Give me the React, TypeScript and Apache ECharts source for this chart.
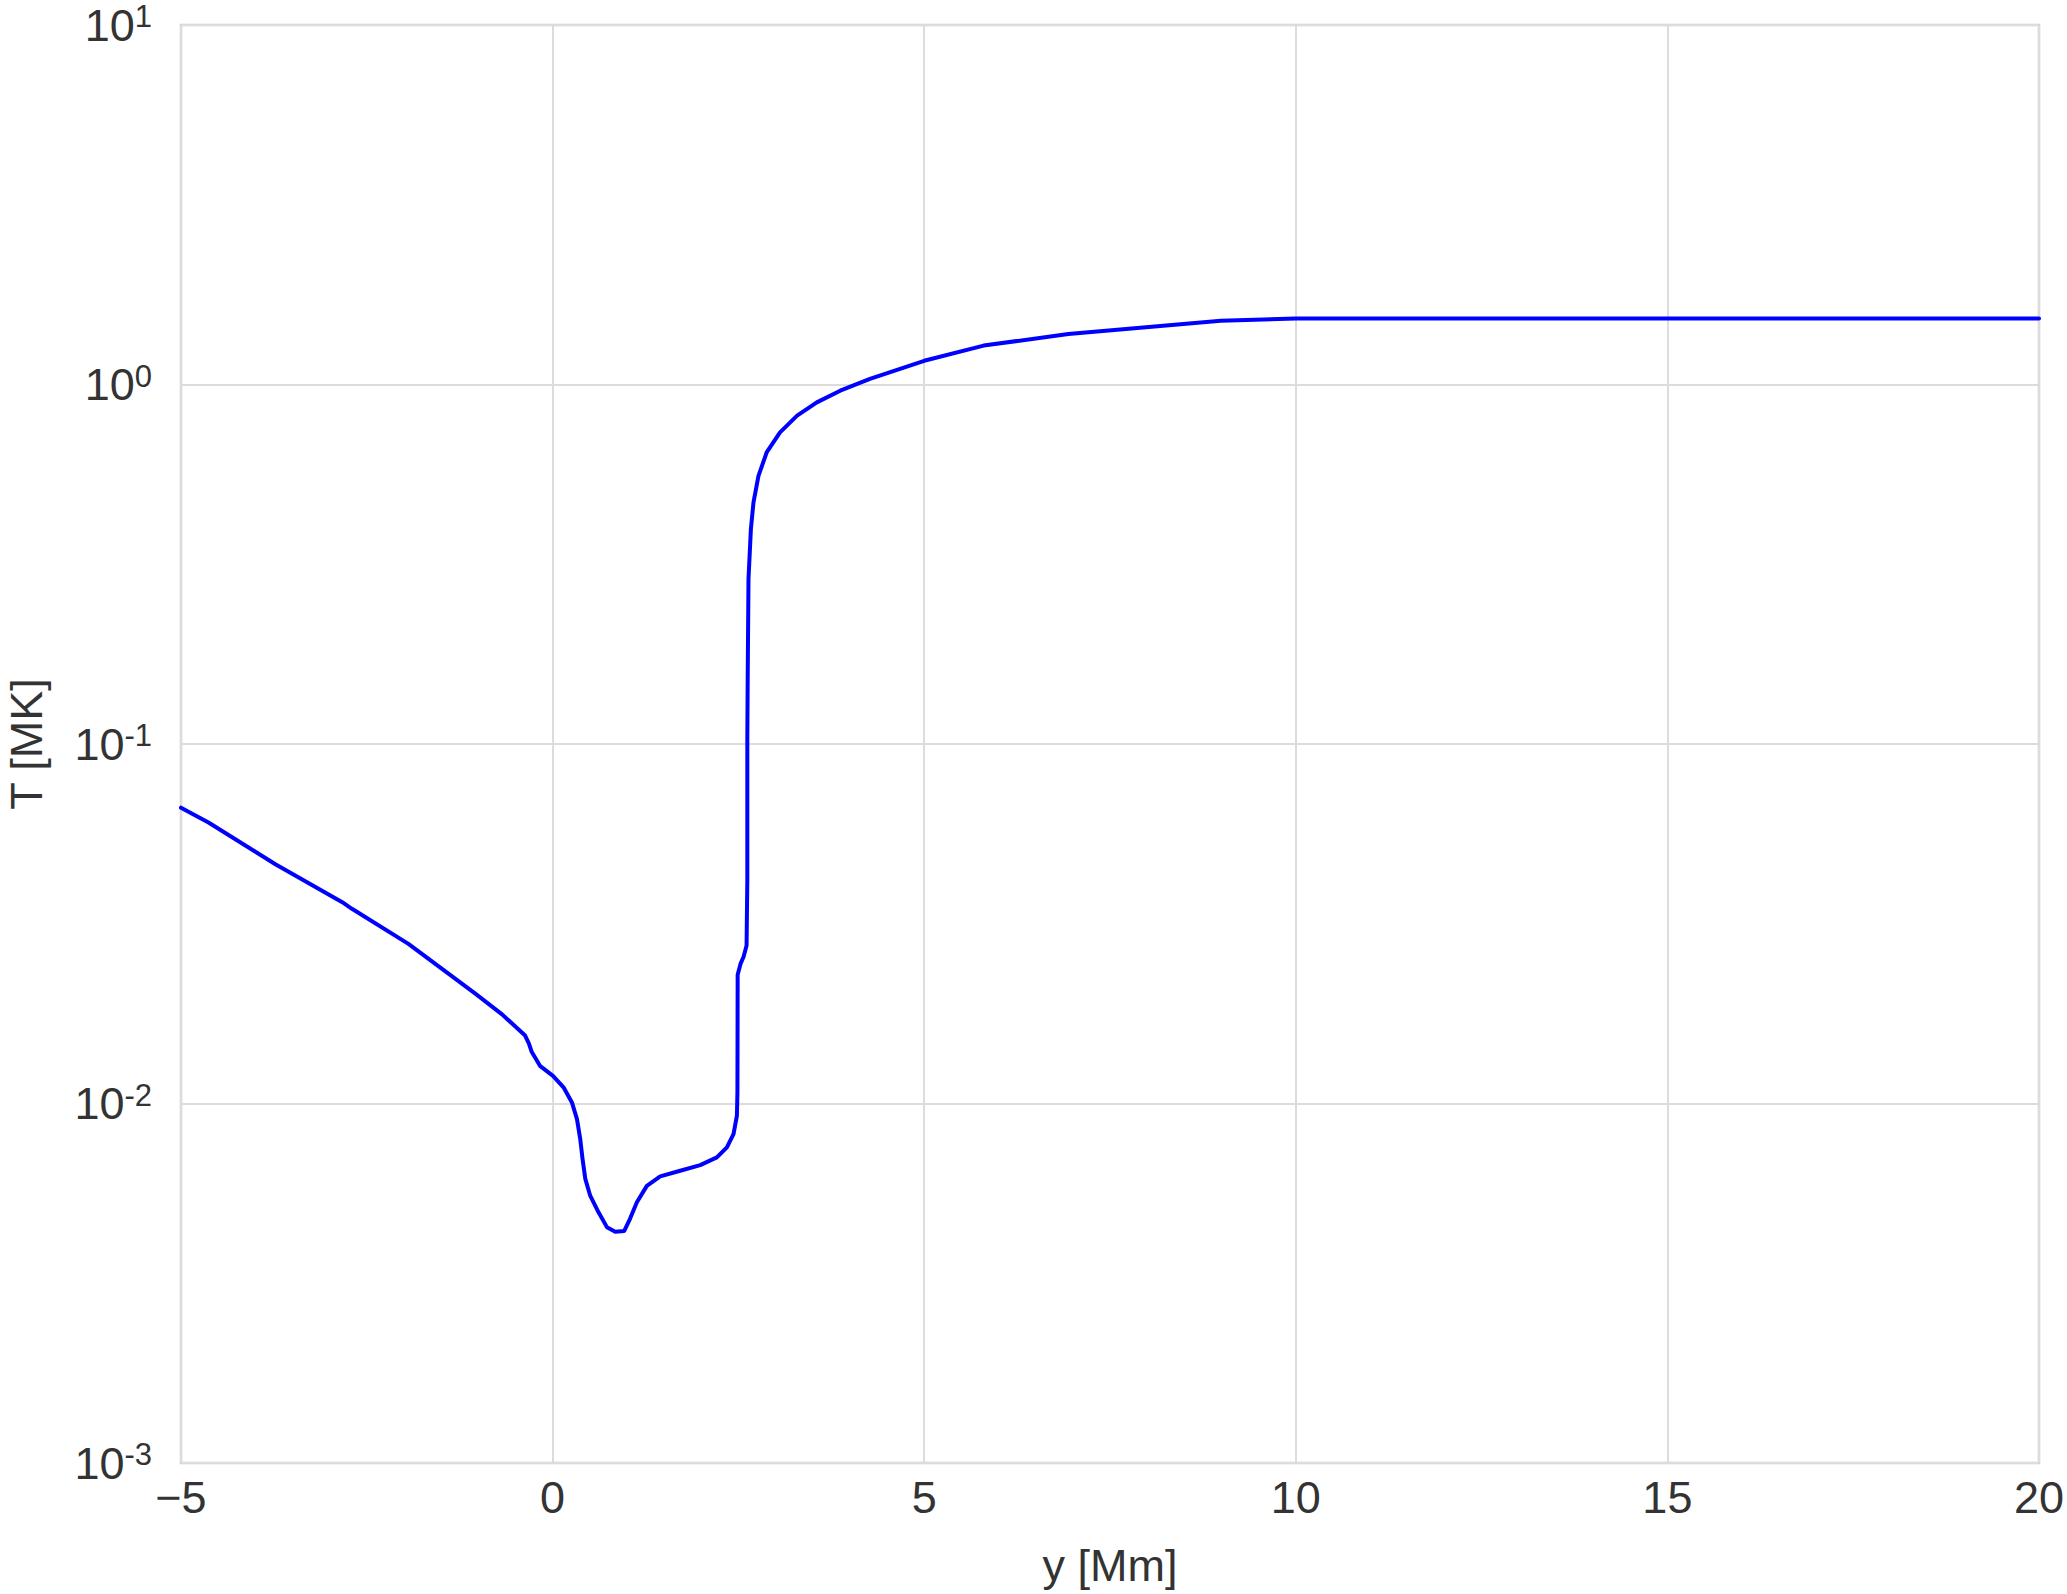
import React, { useEffect, useRef } from "react";
import * as echarts from "echarts";

// y position [Mm]
const yMm: number[] = [
  -5, -4.63, -3.73, -2.83, -2.7, -1.94, -1.04, -0.68, -0.37, -0.32, -0.28, -0.166, 0.005, 0.147,
  0.26, 0.328, 0.372, 0.403, 0.44, 0.506, 0.618, 0.731, 0.843, 0.964, 1.04, 1.134, 1.268, 1.448,
  1.717, 1.986, 2.21, 2.345, 2.434, 2.48, 2.487, 2.49, 2.53, 2.57, 2.61, 2.62, 2.62, 2.625, 2.636,
  2.668, 2.703, 2.77, 2.88, 3.06, 3.29, 3.555, 3.87, 4.27, 5.0, 5.8, 6.94, 8.99, 10, 20,
];
// temperature [MK]
const tempMK: number[] = [
  0.0665, 0.0605, 0.0463, 0.0363, 0.0348, 0.0278, 0.0202, 0.0177, 0.01545, 0.0147, 0.0139, 0.0127,
  0.01194, 0.01109, 0.01007, 0.00905, 0.00796, 0.00701, 0.00617, 0.00554, 0.00498, 0.00453, 0.0044,
  0.00442, 0.00477, 0.00531, 0.0059, 0.00627, 0.0065, 0.00674, 0.00708, 0.00755, 0.00822, 0.00925,
  0.01074, 0.0228, 0.0245, 0.0256, 0.0275, 0.042, 0.104, 0.152, 0.288, 0.396, 0.47, 0.557, 0.647,
  0.736, 0.819, 0.892, 0.961, 1.036, 1.164, 1.283, 1.382, 1.505, 1.527, 1.527,
];
const xTicks: number[] = [-5, 0, 5, 10, 15, 20];
const yExponents: number[] = [-3, -2, -1, 0, 1];

const FONT = "Liberation Sans";
const TXT = "#333333";

export default function App() {
  const ref = useRef<HTMLDivElement>(null);
  useEffect(() => {
    document.body.style.margin = "0";
    if (!ref.current) return;
    const chart = echarts.init(ref.current, undefined, { renderer: "svg" });
    const data = yMm.map((x, i) => [x, tempMK[i]]);
    chart.setOption({
      animation: false,
      backgroundColor: "#ffffff",
      grid: {
        left: 181,
        top: 25,
        right: 28,
        bottom: 131,
        containLabel: false,
        outerBoundsMode: "none",
        show: true,
        borderColor: "#cccccc",
        borderWidth: 2.5,
        backgroundColor: "#ffffff",
      },
      xAxis: {
        type: "value",
        min: xTicks[0],
        max: xTicks[xTicks.length - 1],
        interval: 5,
        name: "y [Mm]",
        nameLocation: "middle",
        nameGap: 80,
        nameTextStyle: { fontFamily: FONT, fontSize: 45, color: TXT },
        axisLine: { show: false },
        axisTick: { show: false },
        axisLabel: {
          fontFamily: FONT,
          fontSize: 45,
          color: TXT,
          margin: 12,
          formatter: (v: number) => (v < 0 ? "\u2212" + Math.abs(v) : String(v)),
        },
        splitLine: { show: true, lineStyle: { color: "#dcdcdc", width: 2 } },
      },
      yAxis: {
        type: "log",
        logBase: 10,
        min: Math.pow(10, yExponents[0]),
        max: Math.pow(10, yExponents[yExponents.length - 1]),
        name: "T [MK]",
        nameLocation: "middle",
        nameGap: 132,
        nameRotate: 90,
        nameTextStyle: { fontFamily: FONT, fontSize: 45, color: TXT, lineHeight: 45 },
        axisLine: { show: false },
        axisTick: { show: false },
        minorTick: { show: false },
        axisLabel: {
          margin: 29,
          formatter: (v: number) => {
            const e = Math.round(Math.log10(v));
            const s = e < 0 ? "-" + Math.abs(e) : String(e);
            return "{b|10}{s|" + s + "}";
          },
          rich: {
            b: { fontFamily: FONT, fontSize: 45, color: TXT, lineHeight: 48 },
            s: { fontFamily: FONT, fontSize: 31, color: TXT, verticalAlign: "top", lineHeight: 48, padding: [0, 0, 18, 0] },
          },
        },
        splitLine: { show: true, lineStyle: { color: "#dcdcdc", width: 2 } },
      },
      series: [
        {
          type: "line",
          data,
          showSymbol: false,
          smooth: false,
          lineStyle: { color: "#0000ff", width: 4, join: "round", cap: "round" },
          itemStyle: { color: "#0000ff" },
        },
      ],
    });
    return () => chart.dispose();
  }, []);
  return <div ref={ref} style={{ width: 2067, height: 1594 }} />;
}
